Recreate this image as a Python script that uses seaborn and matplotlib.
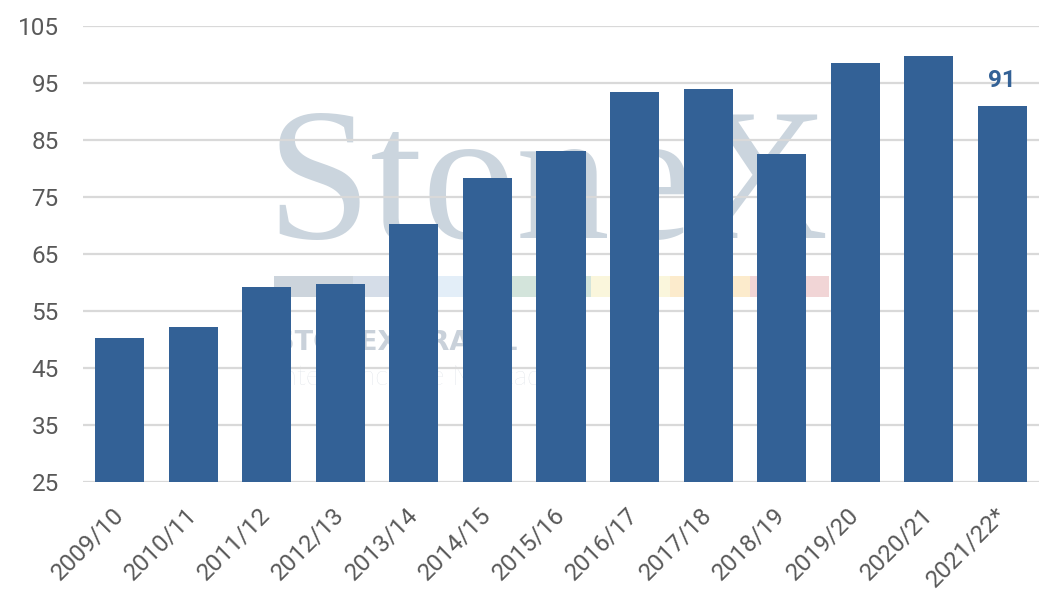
import matplotlib
matplotlib.use('Agg')
import matplotlib.pyplot as plt
import seaborn as sns
from matplotlib.patches import Rectangle

# harvest seasons and values
seasons = ['2009/10', '2010/11', '2011/12', '2012/13', '2013/14', '2014/15', '2015/16',
           '2016/17', '2017/18', '2018/19', '2019/20', '2020/21', '2021/22*']
values = [50.2, 52.1, 59.1, 59.6, 70.2, 78.3, 83.0, 93.4, 93.9, 82.5, 98.5, 99.7, 90.9]
y_ticks = [25, 35, 45, 55, 65, 75, 85, 95, 105]

BAR_COLOR = '#336196'
TEXT_COLOR = '#595959'
GRID_COLOR = '#D9D9D9'

sns.set_style('white')
plt.rcParams['font.family'] = ['Roboto', 'DejaVu Sans']

fig = plt.figure(figsize=(10.61, 6.11), dpi=100)
ax = fig.add_axes([0.0782, 0.2116, 0.9011, 0.7463])

sns.barplot(x=seasons, y=values, color=BAR_COLOR, width=0.667, saturation=1,
            linewidth=0, edgecolor='none', ax=ax, zorder=2)

ax.set_ylim(25, 105)
ax.set_yticks(y_ticks)
ax.set_xlim(-0.5, len(seasons) - 0.5)
ax.yaxis.grid(True, color=GRID_COLOR, linewidth=1.6, zorder=1)
ax.set_axisbelow(True)
for s in ax.spines.values():
    s.set_visible(False)
ax.set_xlabel('')
ax.set_ylabel('')
ax.tick_params(axis='y', length=0, pad=17.5, labelsize=17.5, labelcolor=TEXT_COLOR)
ax.tick_params(axis='x', length=0, pad=21, labelsize=17.5, labelcolor=TEXT_COLOR)
plt.setp(ax.get_xticklabels(), rotation=45, ha='right', va='center', rotation_mode='anchor')

# only the last (estimate) bar carries a label
labels = [''] * (len(values) - 1) + [f'{values[-1]:.0f}']
ax.bar_label(ax.containers[0], labels=labels, padding=10, fontsize=17.5,
             fontweight='bold', color=BAR_COLOR)

# watermark behind the bars
wm = '#CBD5DE'
ax.text(0.1916, 0.534, 'StoneX', transform=ax.transAxes, fontsize=135,
        family='Liberation Serif', color=wm, ha='left', va='baseline', zorder=0.2)
strip = ['#CCD4DC', '#D5DDE8', '#E3EEF8', '#D3E4DB', '#FAF6DC', '#FCEBCC', '#F1D5D6']
for i, c in enumerate(strip):
    ax.add_patch(Rectangle((0.1998 + i * 0.0829, 0.4057), 0.0829, 0.0461,
                           transform=ax.transAxes, color=c, lw=0, zorder=0.2))
ax.text(0.201, 0.289, 'STONEX BRASIL', transform=ax.transAxes, fontsize=19.5,
        family='DejaVu Sans', fontweight='bold', color='#C9D1DA', ha='left',
        va='baseline', zorder=0.2)
ax.text(0.201, 0.212, 'Inteligência de Mercado', transform=ax.transAxes, fontsize=20,
        family='Lato', fontweight='light', color='#D4DAE1', ha='left',
        va='baseline', zorder=0.2)

fig.savefig('out.png', dpi=100)
plt.close(fig)
